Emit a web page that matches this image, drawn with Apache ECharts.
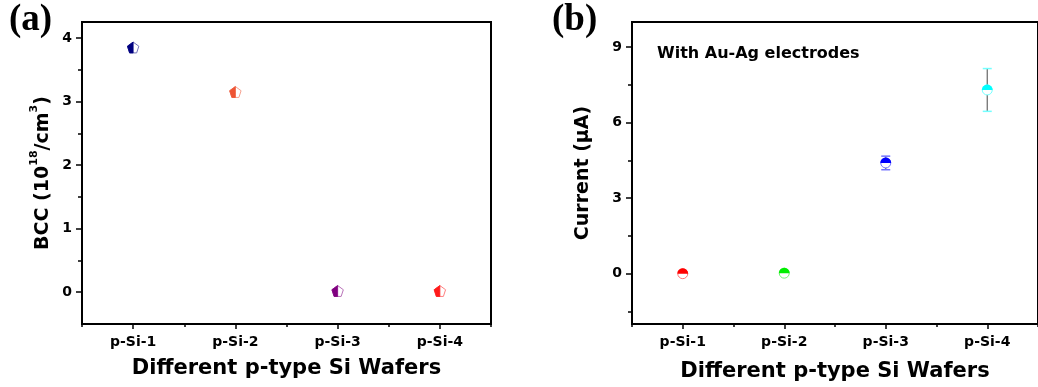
<!DOCTYPE html>
<html>
<head>
<meta charset="utf-8">
<script src="https://cdn.jsdelivr.net/npm/echarts@6/dist/echarts.min.js"></script>
<style>
  html, body { margin: 0; padding: 0; background: #ffffff; }
  #chart { width: 1038px; height: 387px; }
</style>
</head>
<body>
<div id="chart"></div>
<script>
// Wafer samples and measured values
const wafers = ['p-Si-1', 'p-Si-2', 'p-Si-3', 'p-Si-4'];
const bccValues = [3.84, 3.14, 0.01, 0.01];          // 10^18 /cm^3
const currentValues = [0.0, 0.02, 4.4, 7.3];         // µA
const currentErrors = [0, 0, 0.27, 0.85];            // µA
const bccTicks = [0, 1, 2, 3, 4];
const bccMinorTicks = [0.5, 1.5, 2.5, 3.5];
const currentTicks = [0, 3, 6, 9];
const currentMinorTicks = [-1.5, 1.5, 4.5, 7.5];
const waferTicks = [1, 2, 3, 4];
const waferMinorTicks = [0.5, 1.5, 2.5, 3.5, 4.5];
const bccColors = ['#000080', '#EE5535', '#800080', '#FF1A1A'];
const currentColors = ['#FF0000', '#00EE00', '#0000FF', '#00FFFF'];

const FONT = 'DejaVu Sans';

function lighten(hex, f) {
  const n = parseInt(hex.slice(1), 16);
  const r = (n >> 16) & 255, g = (n >> 8) & 255, b = n & 255;
  const m = c => Math.round(c + (255 - c) * f);
  return 'rgb(' + m(r) + ',' + m(g) + ',' + m(b) + ')';
}

// Half-filled pentagon marker (left half solid)
function renderPentagon(params, api) {
  const i = params.dataIndex;
  const p = api.coord([api.value(0), api.value(1)]);
  const r = 6;
  const col = bccColors[i];
  const pts = [];
  for (let k = 0; k < 5; k++) {
    const a = -Math.PI / 2 + k * 2 * Math.PI / 5;
    pts.push([p[0] + r * Math.cos(a), p[1] + r * Math.sin(a)]);
  }
  const half = [pts[0], pts[4], pts[3], [p[0], pts[3][1]]];
  return {
    type: 'group',
    children: [
      { type: 'polygon', shape: { points: pts }, style: { fill: '#ffffff', stroke: lighten(col, 0.45), lineWidth: 1 } },
      { type: 'polygon', shape: { points: half }, style: { fill: col, stroke: col, lineWidth: 0.8 } }
    ]
  };
}

// Half-filled circle marker (top half solid) with error bar
function renderCircle(params, api) {
  const i = params.dataIndex;
  const x = api.value(0), y = api.value(1), e = api.value(2);
  const p = api.coord([x, y]);
  const r = 5;
  const col = currentColors[i];
  const light = lighten(col, 0.45);
  const children = [];
  if (e > 0) {
    const top = api.coord([x, y + e]);
    const bot = api.coord([x, y - e]);
    children.push({ type: 'line', shape: { x1: p[0], y1: top[1], x2: p[0], y2: bot[1] }, style: { stroke: '#666666', lineWidth: 1.2 } });
    children.push({ type: 'line', shape: { x1: p[0] - 4.5, y1: top[1], x2: p[0] + 4.5, y2: top[1] }, style: { stroke: light, lineWidth: 1.5 } });
    children.push({ type: 'line', shape: { x1: p[0] - 4.5, y1: bot[1], x2: p[0] + 4.5, y2: bot[1] }, style: { stroke: light, lineWidth: 1.5 } });
  }
  children.push({ type: 'circle', shape: { cx: p[0], cy: p[1], r: r }, style: { fill: '#ffffff', stroke: light, lineWidth: 1 } });
  children.push({ type: 'sector', shape: { cx: p[0], cy: p[1], r0: 0, r: r + 0.4, startAngle: Math.PI, endAngle: 2 * Math.PI, clockwise: true }, style: { fill: col } });
  return { type: 'group', children: children };
}

const axisLineStyle = { show: true, onZero: false, lineStyle: { color: '#000', width: 2 } };
const labelStyle = { color: '#000', fontFamily: FONT, fontWeight: 'bold', fontSize: 14 };
const nameStyle = { color: '#000', fontFamily: FONT, fontWeight: 'bold', fontSize: 21 };

function mainX(grid, gap) {
  return {
    gridIndex: grid, type: 'value', min: 0.5, max: 4.5, position: 'bottom',
    axisLine: axisLineStyle,
    axisTick: { show: true, inside: false, length: 5, customValues: waferTicks, lineStyle: { color: '#000', width: 1.5 } },
    axisLabel: Object.assign({ customValues: waferTicks, margin: 11, formatter: v => wafers[Math.round(v) - 1] || '' }, labelStyle),
    splitLine: { show: false },
    name: 'Different p-type Si Wafers', nameLocation: 'middle', nameGap: gap,
    nameTextStyle: nameStyle
  };
}
function minorX(grid) {
  return {
    gridIndex: grid, type: 'value', min: 0.5, max: 4.5, position: 'bottom',
    axisLine: { show: false, onZero: false },
    axisTick: { show: true, length: 3, customValues: waferMinorTicks, lineStyle: { color: '#000', width: 1.5 } },
    axisLabel: { show: false }, splitLine: { show: false }
  };
}
function mainY(grid, min, max, ticks, name, gap) {
  return {
    gridIndex: grid, type: 'value', min: min, max: max, position: 'left',
    axisLine: axisLineStyle,
    axisTick: { show: true, length: 6, customValues: ticks, lineStyle: { color: '#000', width: 1.5 } },
    axisLabel: Object.assign({ customValues: ticks, margin: 10 }, labelStyle),
    splitLine: { show: false },
    name: name, nameLocation: 'middle', nameGap: gap,
    nameTextStyle: Object.assign({}, nameStyle, { fontSize: 19 })
  };
}
function minorY(grid, min, max, ticks) {
  return {
    gridIndex: grid, type: 'value', min: min, max: max, position: 'left',
    axisLine: { show: false, onZero: false },
    axisTick: { show: true, length: 4, customValues: ticks, lineStyle: { color: '#000', width: 1.5 } },
    axisLabel: { show: false }, splitLine: { show: false }
  };
}

const bccName = mainY(0, -0.5, 4.25, bccTicks, '{m|BCC (10}{s|18}{m|/cm}{s|3}{m|)}', 29);
bccName.nameTextStyle = Object.assign({}, nameStyle, {
  fontSize: 19,
  rich: {
    m: { fontFamily: FONT, fontWeight: 'bold', fontSize: 19, color: '#000', lineHeight: 24, verticalAlign: 'bottom' },
    s: { fontFamily: FONT, fontWeight: 'bold', fontSize: 11, color: '#000', lineHeight: 24, verticalAlign: 'top', padding: [0, 0, 8, 0] }
  }
});

const chart = echarts.init(document.getElementById('chart'), null, { renderer: 'canvas' });
chart.setOption({
  backgroundColor: '#ffffff',
  animation: false,
  grid: [
    { left: 82, top: 22, width: 409, height: 302, show: true, borderColor: '#000', borderWidth: 2, backgroundColor: 'transparent' },
    { left: 632, top: 22, width: 415, height: 303, show: true, borderColor: '#000', borderWidth: 2, backgroundColor: 'transparent' }
  ],
  xAxis: [mainX(0, 34), minorX(0), mainX(1, 37), minorX(1)],
  yAxis: [
    bccName,
    minorY(0, -0.5, 4.25, bccMinorTicks),
    mainY(1, -2, 10, currentTicks, 'Current (\u03BCA)', 39),
    minorY(1, -2, 10, currentMinorTicks)
  ],
  graphic: [
    { type: 'text', left: 9, top: 2, style: { text: '(a)', font: 'bold 37px "Liberation Serif"', fill: '#000' } },
    { type: 'text', left: 552, top: 2, style: { text: '(b)', font: 'bold 37px "Liberation Serif"', fill: '#000' } },
    { type: 'text', left: 657, top: 46, style: { text: 'With Au-Ag electrodes', font: 'bold 16px "DejaVu Sans"', fill: '#000' } }
  ],
  series: [
    {
      type: 'custom', xAxisIndex: 0, yAxisIndex: 0,
      renderItem: renderPentagon,
      data: wafers.map((w, i) => [i + 1, bccValues[i]])
    },
    {
      type: 'custom', xAxisIndex: 2, yAxisIndex: 2,
      renderItem: renderCircle,
      encode: { x: 0, y: 1 },
      data: wafers.map((w, i) => [i + 1, currentValues[i], currentErrors[i]])
    }
  ]
});
</script>
</body>
</html>
